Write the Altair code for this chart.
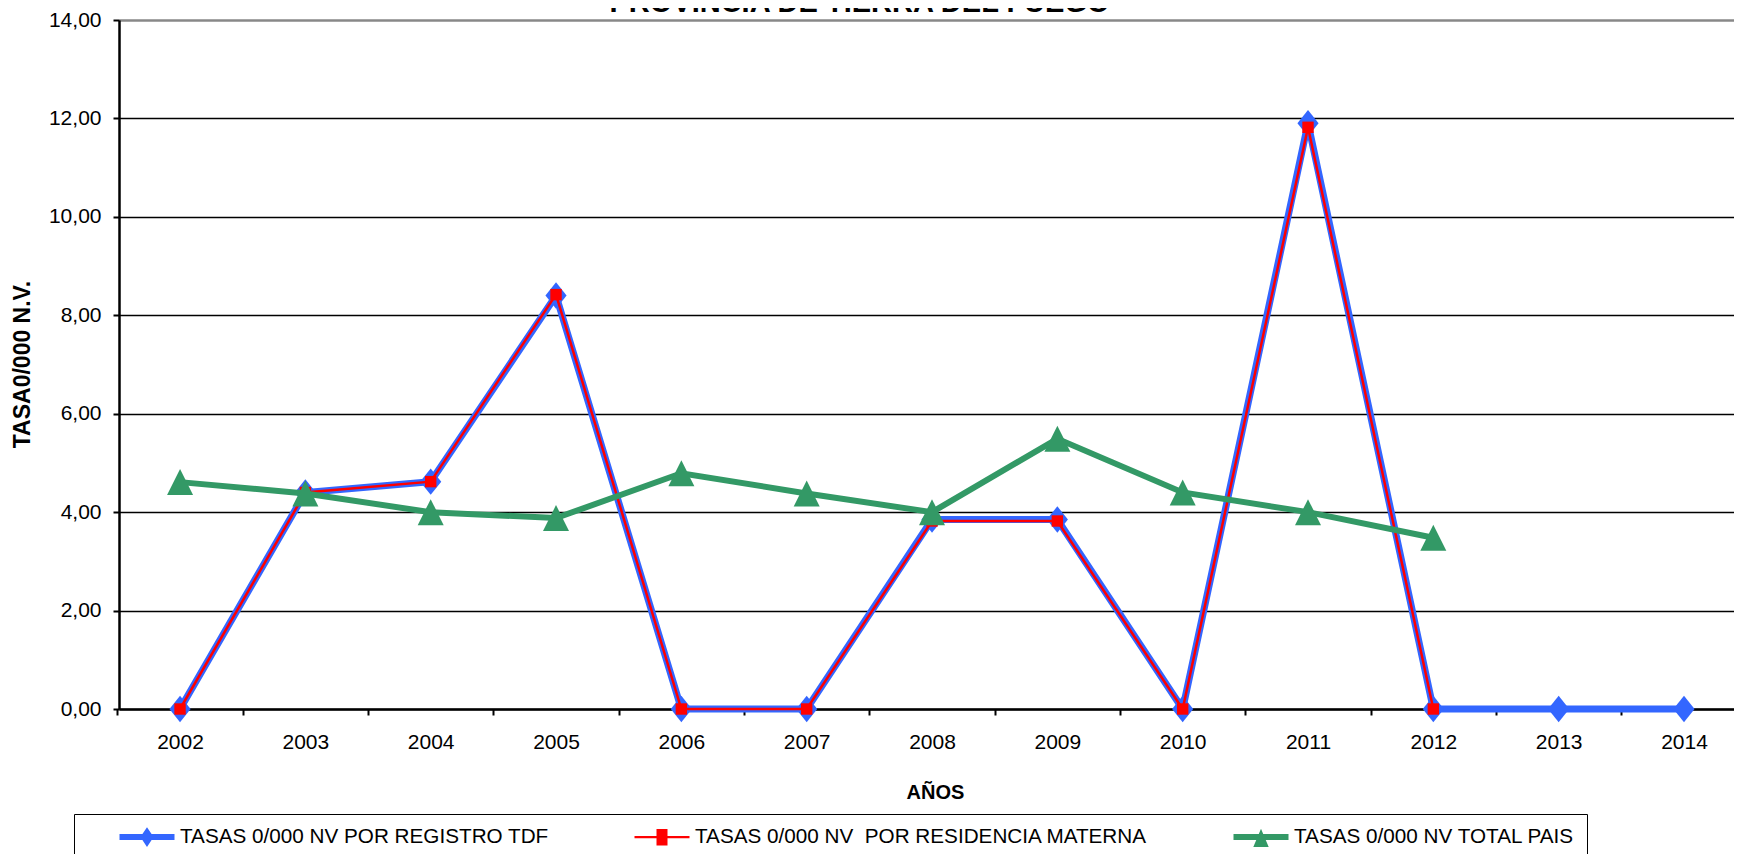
import altair as alt
import pandas as pd

years = [2002, 2003, 2004, 2005, 2006, 2007, 2008, 2009, 2010, 2011, 2012, 2013, 2014]
registro_tdf = [0.0, 4.40, 4.62, 8.40, 0.0, 0.0, 3.85, 3.85, 0.0, 11.90, 0.0, 0.0, 0.0]
residencia_materna = [0.0, 4.40, 4.62, 8.42, 0.0, 0.0, 3.82, 3.82, 0.0, 11.82, 0.0, None, None]
total_pais = [4.61, 4.38, 4.00, 3.88, 4.79, 4.38, 4.00, 5.49, 4.40, 4.00, 3.48, None, None]

series_names = [
    "TASAS 0/000 NV POR REGISTRO TDF",
    "TASAS 0/000 NV\u00a0 POR RESIDENCIA MATERNA",
    "TASAS 0/000 NV TOTAL PAIS" + "\u00a0" * 8,
]
series_colors = ["#3366FF", "#FF0000", "#339966"]

FONT = "Liberation Sans"

def frame(vals, name):
    df = pd.DataFrame({"year": years, "value": vals, "series": name})
    return df.dropna()

df_tdf = frame(registro_tdf, series_names[0])
df_mat = frame(residencia_materna, series_names[1])
df_pais = frame(total_pais, series_names[2])

x_enc = alt.X(
    "year:Q",
    scale=alt.Scale(domain=[2001.513, 2014.399], nice=False, zero=False),
    axis=alt.Axis(
        values=years, format="d", title="AÑOS",
        titleFont=FONT, titleFontSize=20, titleFontWeight="bold", titleColor="black",
        titleX=816, titleY=83, titleBaseline="middle", titleAlign="center",
        labelFont=FONT, labelFontSize=21, labelColor="black",
        labelOverlap=False, labelFlush=False, labelBound=False,
        tickOffset=-62.67, labelOffset=62.67, tickSize=6, tickColor="black", tickWidth=2,
        labelPadding=16, domainColor="black", domainWidth=2.5, grid=False,
    ),
)
y_enc = alt.Y(
    "value:Q",
    scale=alt.Scale(domain=[0, 14], nice=False, zero=True),
    axis=alt.Axis(
        values=[0, 2, 4, 6, 8, 10, 12, 14],
        labelExpr="replace(format(datum.value, '.2f'), '.', ',')",
        title="TASA0/000 N.V.",
        titleFont=FONT, titleFontSize=23, titleFontWeight="bold", titleColor="black",
        titleAngle=270, titleX=-97, titleY=344, titleBaseline="middle", titleAlign="center",
        labelFont=FONT, labelFontSize=21, labelColor="black",
        labelOverlap=False, labelFlush=False, labelBound=False,
        tickSize=6, tickColor="black", tickWidth=2, labelPadding=12,
        domainColor="black", domainWidth=2.5,
        grid=True,
        gridColor=alt.condition("datum.value == 14", alt.value("#888888"), alt.value("black")),
        gridWidth=alt.condition("datum.value == 14", alt.value(2.6), alt.value(1.7)),
    ),
)

DIAMOND = "M0,-1L0.8,0L0,1L-0.8,0Z"
TRIANGLE = "M0,-1L1,1L-1,1Z"

def line(df, color, width):
    return alt.Chart(df).mark_line(color=color, strokeWidth=width).encode(x=x_enc, y=y_enc)

def pts(df, color, shape, size):
    return alt.Chart(df).mark_point(
        filled=True, color=color, shape=shape, size=size, opacity=1, strokeWidth=0
    ).encode(x=x_enc, y=y_enc)

LEG_BLUE = "M-2.5,-0.27L2.5,-0.27L2.5,0.27L-2.5,0.27Z M0,-0.9L0.6,0L0,0.9L-0.6,0Z"
LEG_RED = "M-2.5,-0.1L2.5,-0.1L2.5,0.1L-2.5,0.1Z M-0.5,-0.75L0.5,-0.75L0.5,0.75L-0.5,0.75Z"
LEG_GREEN = "M-2.5,-0.27L2.5,-0.27L2.5,0.27L-2.5,0.27Z M0,-0.75L0.7,0.9L-0.7,0.9Z"

legend_df = pd.DataFrame({"series": series_names})
legend_props = dict(
    orient="none", legendX=-45, legendY=794, direction="horizontal", columns=3,
    title=None, strokeColor="black", padding=12, fillColor="white",
    labelFont=FONT, labelFontSize=20.7, labelColor="black", labelLimit=700,
    labelOffset=22, columnPadding=52, symbolSize=484, symbolStrokeWidth=0,
    symbolOpacity=1, symbolOffset=50,
)
legend_layer = alt.Chart(legend_df).mark_point(filled=True, opacity=1).encode(
    color=alt.Color("series:N", scale=alt.Scale(domain=series_names, range=series_colors),
                    legend=alt.Legend(**legend_props)),
    shape=alt.Shape("series:N", scale=alt.Scale(domain=series_names, range=[LEG_BLUE, LEG_RED, LEG_GREEN]),
                    legend=alt.Legend(**legend_props)),
).transform_filter("false")

chart = alt.layer(
    line(df_tdf, series_colors[0], 7),
    pts(df_tdf, series_colors[0], DIAMOND, 700),
    line(df_mat, series_colors[1], 2.5),
    pts(df_mat, series_colors[1], "square", 130),
    line(df_pais, series_colors[2], 6),
    pts(df_pais, series_colors[2], TRIANGLE, 676),
    legend_layer,
).properties(
    width=1615, height=689,
    autosize=alt.AutoSizeParams(type="none"),
    padding={"left": 111, "top": 12, "right": 0, "bottom": 145},
    title=alt.TitleParams(
        "PROVINCIA DE TIERRA DEL FUEGO", font=FONT, fontSize=29, fontWeight="bold",
        color="black", anchor="middle", dx=-67, dy=9, offset=0,
    ),
).configure_view(stroke=None).configure_legend(strokeWidth=2).configure(background="white")

chart.save("out.html", embed_options={"renderer": "svg", "actions": False})
